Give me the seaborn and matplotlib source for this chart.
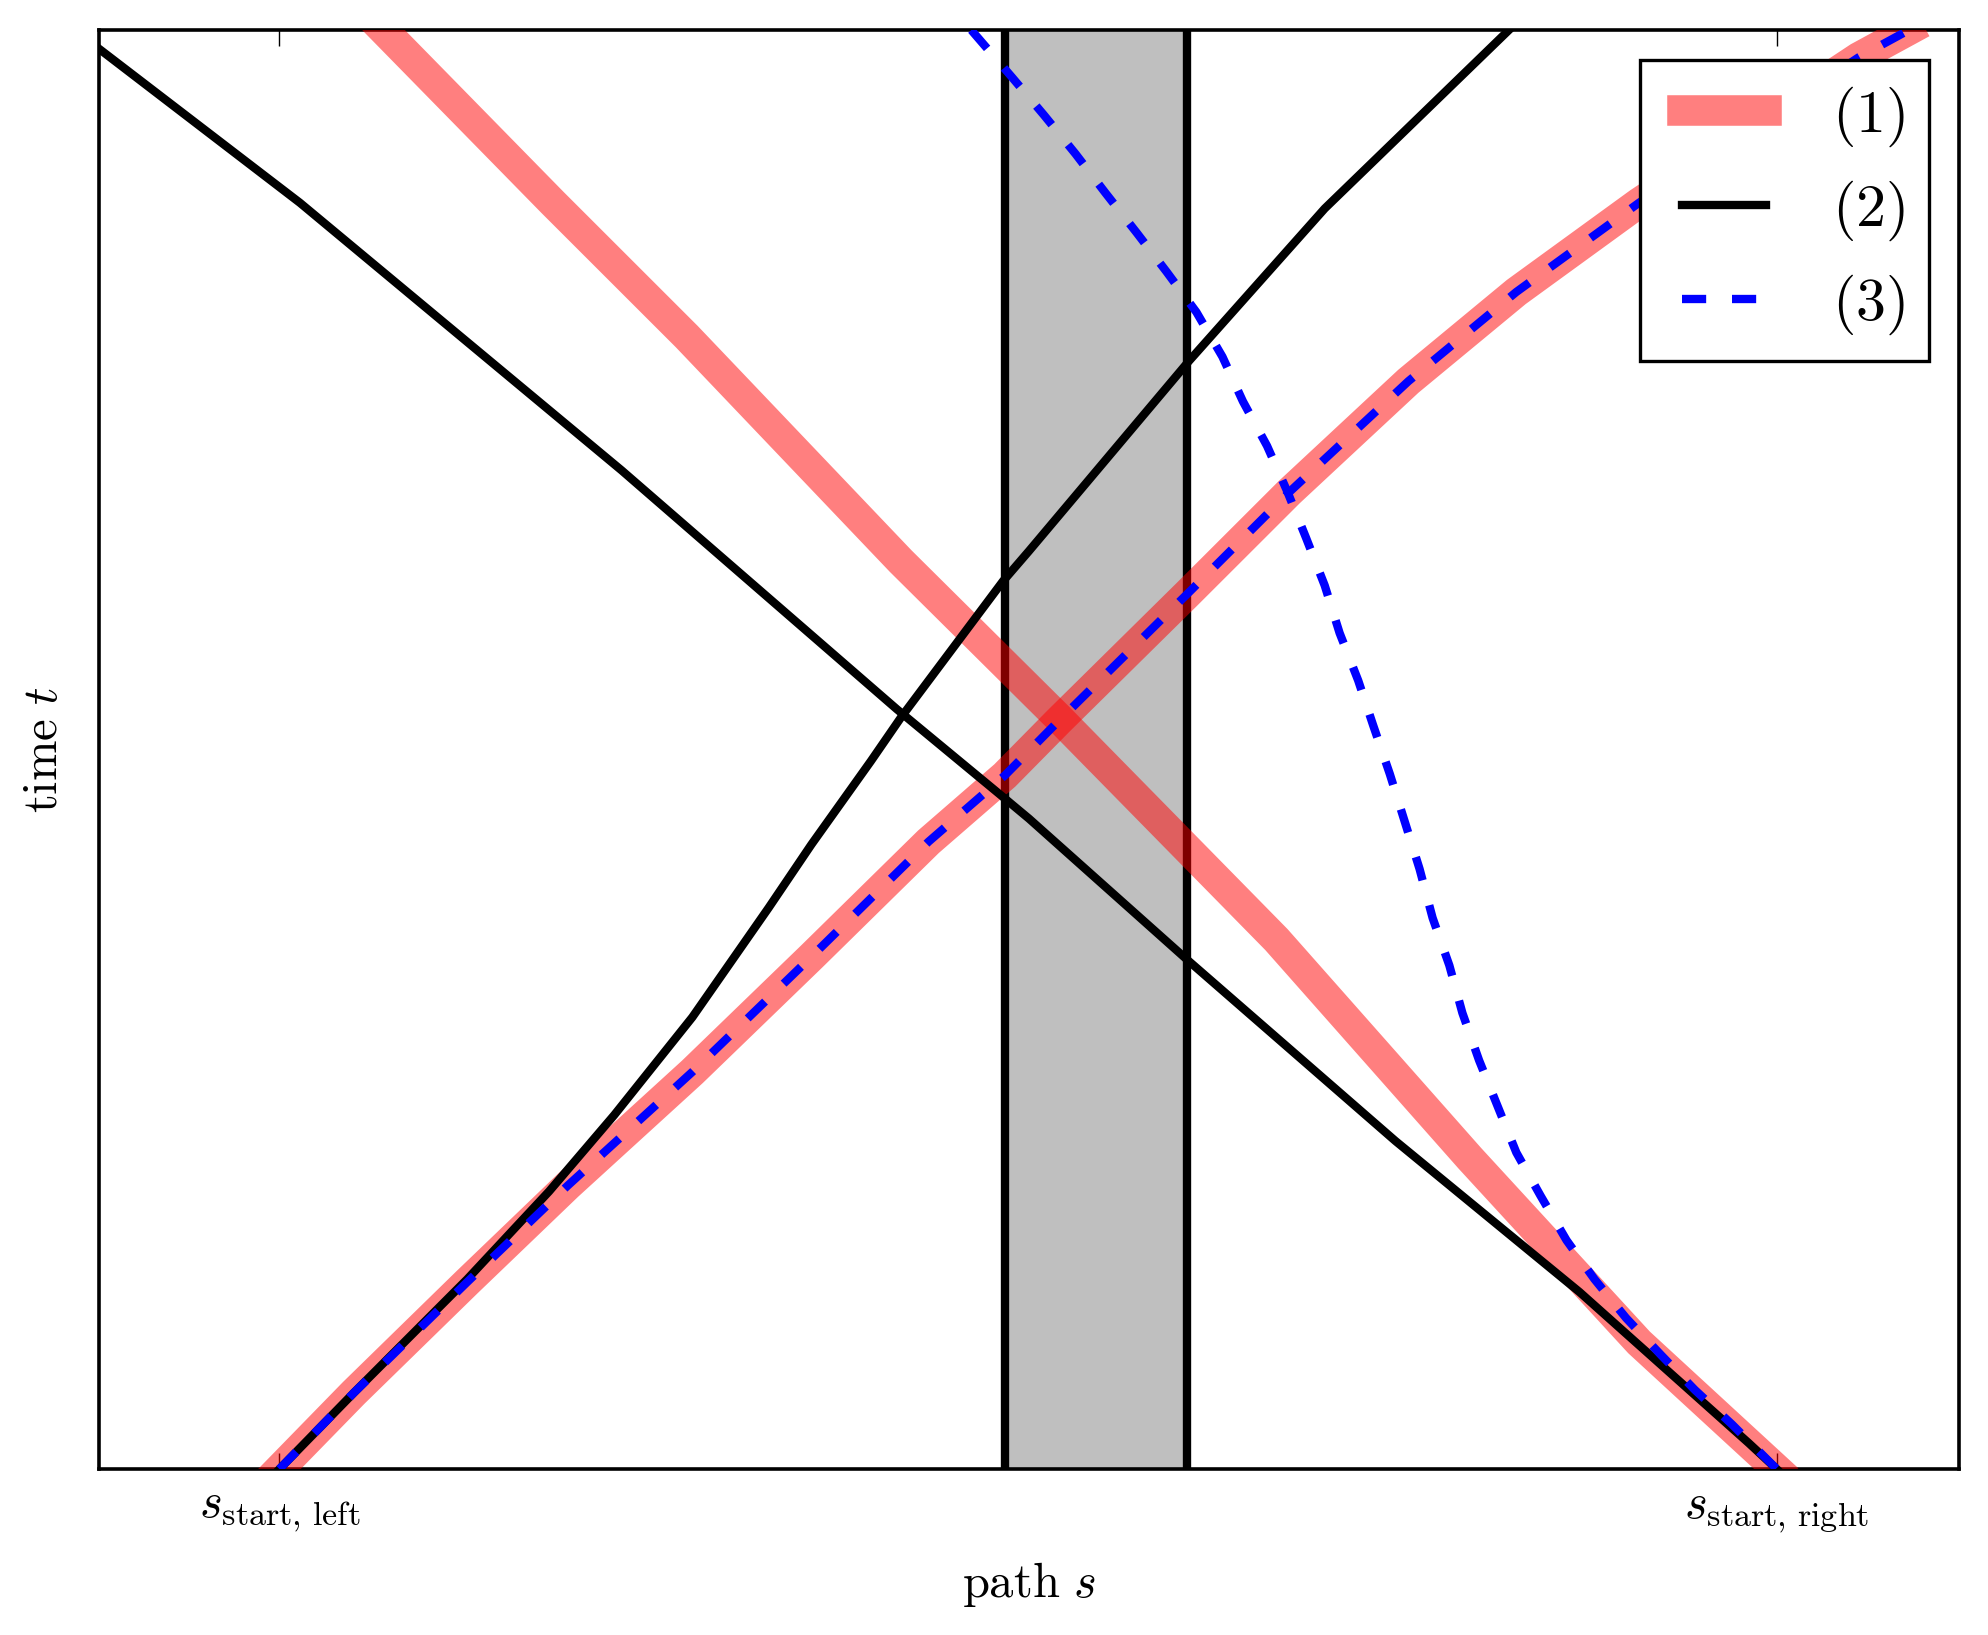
import matplotlib
matplotlib.use("Agg")
import matplotlib.pyplot as plt
import seaborn as sns

# ---------------- data (path s, time t), axes span 0..100 on both ----------------
tick_positions = [9.7, 90.2]
tick_labels = [r'$s_{\mathrm{start,\,left}}$', r'$s_{\mathrm{start,\,right}}$']
zone = [48.7, 58.5]          # conflict zone on the path

legend_labels = [r'$(1)$', r'$(2)$', r'$(3)$']

# (1) red: left vehicle (rising) and right vehicle (falling)
sol1_left_s = [9.7, 13.7, 19.8, 25.2, 31.9, 38.3, 44.6, 48.7, 51.6, 58.5, 64.0, 70.4, 76.2, 82.8, 94.6, 97.3]
sol1_left_t = [0.0, 5.3, 13.0, 19.7, 27.6, 35.6, 43.6, 48.2, 52.0, 60.8, 67.9, 75.6, 81.8, 88.0, 98.1, 100.0]
sol1_right_s = [15.3, 24.4, 31.6, 43.1, 51.6, 63.3, 73.7, 82.8, 90.2]
sol1_right_t = [100.0, 88.0, 78.7, 63.1, 52.2, 36.8, 21.6, 8.8, 0.0]

# (2) black
sol2_left_s = [9.7, 13.7, 19.8, 24.2, 27.7, 31.9, 36.0, 38.3, 41.5, 43.1, 48.6, 50.0, 58.6, 65.9, 75.8]
sol2_left_t = [0.0, 5.3, 13.2, 19.3, 24.6, 31.4, 39.0, 43.4, 49.2, 52.2, 61.7, 63.8, 77.0, 87.6, 100.0]
sol2_right_s = [0.0, 10.8, 28.1, 42.9, 48.7, 50.0, 58.5, 69.7, 79.6, 88.7, 90.2]
sol2_right_t = [98.7, 88.0, 69.4, 52.8, 46.6, 45.2, 35.4, 22.8, 12.3, 1.8, 0.0]

# (3) blue dashed (left vehicle identical to (1))
sol3_left_s = sol1_left_s
sol3_left_t = sol1_left_t
sol3_right_s = [46.9, 49.1, 50.8, 52.5, 54.1, 55.8, 57.4, 59.0, 60.4, 61.5, 62.8, 63.9, 64.9,
                65.9, 66.7, 67.7, 68.5, 69.4, 70.2, 71.0, 71.7, 72.6, 73.3, 74.2, 75.2, 76.2,
                77.5, 78.9, 80.4, 82.1, 84.0, 85.8, 87.8, 90.2]
sol3_right_t = [100.0, 96.7, 94.1, 91.4, 88.7, 85.9, 83.2, 80.4, 77.3, 74.2, 71.1, 67.9, 64.7,
                61.4, 58.1, 54.8, 51.7, 48.3, 45.0, 41.7, 38.3, 35.0, 31.7, 28.4, 25.2, 22.0,
                19.0, 15.9, 13.2, 10.5, 7.9, 5.5, 3.1, 0.0]

# ---------------- style ----------------
sns.set_style("white")
plt.rcParams.update({
    "mathtext.fontset": "cm",
    "font.family": ["DejaVu Serif"],
    "axes.edgecolor": "black",
    "axes.linewidth": 1.3,
    "xtick.color": "black",
    "text.color": "black",
    "axes.labelcolor": "black",
})

fig = plt.figure(figsize=(9.94, 8.175), dpi=200)
ax = fig.add_axes([0.0498, 0.1015, 0.9356, 0.8801])

ax.axvspan(zone[0], zone[1], color="#bfbfbf", lw=0, zorder=1)
for z in zone:
    ax.axvline(z, color="black", lw=3, zorder=2)

red_kw = dict(color="red", alpha=0.5, lw=11, solid_capstyle="projecting",
              solid_joinstyle="round", zorder=3)
blk_kw = dict(color="black", lw=3, solid_capstyle="projecting", solid_joinstyle="round", zorder=4)
blu_kw = dict(color="blue", lw=3, linestyle=(0, (2.9, 3.1)), zorder=5)

sns.lineplot(x=sol1_left_s, y=sol1_left_t, sort=False, estimator=None, ax=ax, label=legend_labels[0], **red_kw)
sns.lineplot(x=sol1_right_s, y=sol1_right_t, sort=False, estimator=None, ax=ax, **red_kw)
sns.lineplot(x=sol2_left_s, y=sol2_left_t, sort=False, estimator=None, ax=ax, label=legend_labels[1], **blk_kw)
sns.lineplot(x=sol2_right_s, y=sol2_right_t, sort=False, estimator=None, ax=ax, **blk_kw)
sns.lineplot(x=sol3_left_s, y=sol3_left_t, sort=False, estimator=None, ax=ax, label=legend_labels[2], **blu_kw)
sns.lineplot(x=sol3_right_s, y=sol3_right_t, sort=False, estimator=None, ax=ax, **blu_kw)

ax.set_xlim(0, 100)
ax.set_ylim(0, 100)
ax.set_xticks(tick_positions)
ax.set_xticklabels(tick_labels, fontsize=17.5)
ax.set_yticks([])
ax.tick_params(axis="x", direction="in", top=True, bottom=True, length=5.6, width=0.5, pad=6.5)
ax.grid(False)

ax.set_xlabel(r'$\mathrm{path}\ s$', fontsize=17.5)
ax.set_ylabel(r'$\mathrm{time}\ t$', fontsize=17.5)
ax.xaxis.set_label_coords(0.5, -0.063)
ax.yaxis.set_label_coords(-0.017, 0.5)

handles, labels = ax.get_legend_handles_labels()
leg = ax.legend(handles, labels, loc="upper right", fontsize=21.6, numpoints=2,
                handlelength=2.0, handletextpad=0.8, borderpad=0.4, labelspacing=0.5,
                borderaxespad=0.5, fancybox=False, framealpha=1, edgecolor="black")
leg.get_frame().set_linewidth(1.2)

fig.savefig("out.png", dpi=200)
